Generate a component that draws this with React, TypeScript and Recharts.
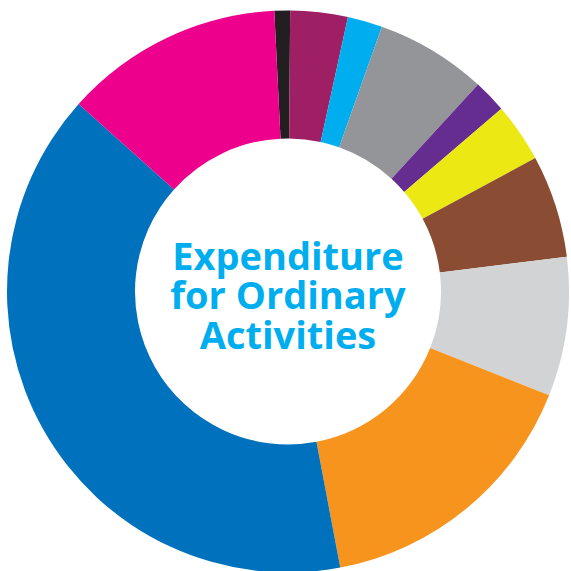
import React from "react";
import { PieChart, Pie, Cell } from "recharts";

const categories = [
  "Black",
  "Maroon",
  "Cyan",
  "Grey",
  "Purple",
  "Yellow",
  "Brown",
  "Light grey",
  "Orange",
  "Blue",
  "Pink",
];
const values = [0.9, 3.3, 2.0, 6.4, 1.9, 3.4, 5.9, 8.0, 16.0, 39.6, 12.6];
const colors = [
  "#231F20",
  "#9E1F63",
  "#00AEEF",
  "#939598",
  "#662D91",
  "#ECE814",
  "#8A4D33",
  "#D1D3D4",
  "#F7941D",
  "#0071BC",
  "#EC008C",
];
const titleLines = ["Expenditure", "for Ordinary", "Activities"];

const data = categories.map((name, i) => ({ name, value: values[i] }));

export default function App() {
  const cx = 288;
  const cy = 291.5;
  return (
    <div style={{ position: "absolute", left: 0, top: 0 }}>
      <PieChart width={571} height={571} margin={{ top: 0, right: 0, bottom: 0, left: 0 }}>
        <Pie
          data={data}
          dataKey="value"
          nameKey="name"
          cx={cx}
          cy={cy}
          innerRadius={153}
          outerRadius={281}
          startAngle={92.8}
          endAngle={-267.2}
          stroke="none"
          isAnimationActive={false}
        >
          {data.map((d, i) => (
            <Cell key={d.name} fill={colors[i]} />
          ))}
        </Pie>
        <text
          x={cx}
          y={269.5}
          textAnchor="middle"
          fill="#00AEEF"
          style={{ fontFamily: "'Open Sans', sans-serif", fontWeight: 700, fontSize: 38 }}
        >
          <tspan x={cx} y={269.5}>{titleLines[0]}</tspan>
          <tspan x={cx} y={309}>{titleLines[1]}</tspan>
          <tspan x={cx} y={348.5}>{titleLines[2]}</tspan>
        </text>
      </PieChart>
    </div>
  );
}
